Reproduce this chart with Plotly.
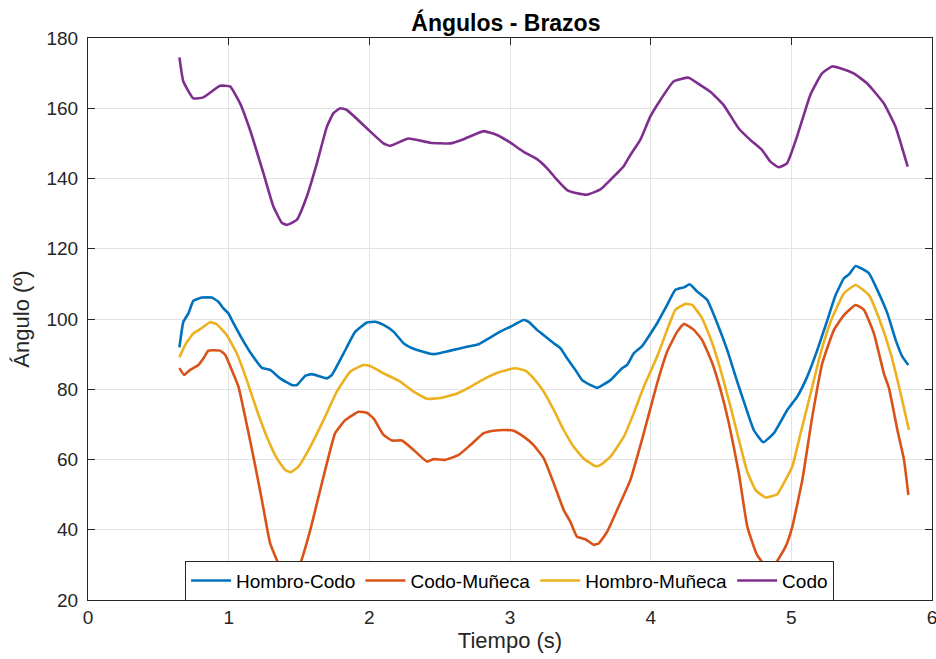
import plotly.graph_objects as go

# Joint angle time series (time in seconds, angle in degrees)
t_hombro_codo = [0.65, 0.678, 0.714, 0.749, 0.809, 0.88, 0.927, 0.963, 0.998, 1.034, 1.093, 1.165,
                 1.236, 1.295, 1.366, 1.449, 1.485, 1.544, 1.591, 1.698, 1.734, 1.817, 1.90, 1.983,
                 2.042, 2.101, 2.172, 2.243, 2.291, 2.339, 2.457, 2.576, 2.694, 2.777, 2.837, 2.931,
                 3.003, 3.097, 3.133, 3.192, 3.24, 3.311, 3.358, 3.406, 3.465, 3.513, 3.572, 3.619,
                 3.714, 3.797, 3.832, 3.88, 3.939, 4.046, 4.117, 4.176, 4.236, 4.278, 4.331, 4.402,
                 4.473, 4.544, 4.615, 4.675, 4.733, 4.80, 4.876, 4.971, 5.042, 5.113, 5.185, 5.256,
                 5.315, 5.374, 5.41, 5.457, 5.552, 5.611, 5.683, 5.742, 5.789, 5.832]
hombro_codo = [91.9, 99.2, 101.6, 105.2, 106.1, 106.1, 104.9, 103.0, 101.6, 98.8, 94.5, 89.8,
               86.1, 85.5, 83.1, 81.2, 81.2, 83.8, 84.3, 83.1, 84.1, 90.2, 96.4, 99.0,
               99.2, 98.3, 96.4, 93.1, 91.9, 91.2, 90.0, 91.0, 92.1, 92.8, 94.2, 96.4,
               97.8, 99.7, 99.2, 96.9, 95.4, 93.1, 91.7, 88.8, 85.5, 82.6, 81.2, 80.4,
               82.6, 86.0, 86.9, 90.2, 92.3, 98.8, 104.0, 108.3, 109.0, 109.9, 107.8, 105.4,
               98.8, 91.2, 82.2, 75.0, 68.4, 64.9, 67.5, 74.1, 77.9, 83.6, 91.2, 99.7,
               106.8, 111.6, 112.7, 115.1, 113.0, 108.3, 101.6, 94.0, 89.3, 86.9]

t_codo_muneca = [0.65, 0.683, 0.726, 0.785, 0.821, 0.856, 0.939, 0.975, 1.022, 1.07, 1.117, 1.176,
                 1.236, 1.295, 1.354, 1.42, 1.508, 1.58, 1.639, 1.698, 1.757, 1.829, 1.923, 1.983,
                 2.03, 2.101, 2.161, 2.232, 2.315, 2.41, 2.457, 2.54, 2.635, 2.718, 2.813, 2.884,
                 2.955, 3.026, 3.097, 3.168, 3.24, 3.311, 3.382, 3.429, 3.477, 3.536, 3.595, 3.631,
                 3.69, 3.761, 3.856, 3.951, 4.046, 4.117, 4.189, 4.236, 4.307, 4.366, 4.438, 4.497,
                 4.556, 4.627, 4.687, 4.757, 4.85, 4.959, 5.007, 5.078, 5.149, 5.22, 5.303, 5.374,
                 5.457, 5.516, 5.587, 5.658, 5.694, 5.754, 5.801, 5.832]
codo_muneca = [86.0, 84.1, 85.5, 86.9, 88.8, 91.0, 91.0, 89.8, 85.5, 80.7, 72.2, 60.8,
               48.5, 36.1, 30.4, 27.0, 30.4, 39.9, 49.4, 58.9, 67.5, 71.2, 73.6, 73.3,
               71.7, 67.0, 65.4, 65.4, 62.7, 59.4, 60.1, 59.9, 61.3, 64.1, 67.5, 68.2,
               68.4, 68.2, 66.5, 64.1, 60.3, 53.2, 45.6, 42.3, 38.0, 37.3, 35.7, 36.1,
               39.4, 45.6, 54.2, 67.5, 81.7, 90.7, 96.4, 98.6, 96.9, 94.0, 87.4, 79.8,
               70.3, 56.1, 40.9, 32.8, 28.5, 35.2, 40.9, 54.2, 72.2, 87.4, 96.9, 101.1,
               104.0, 102.6, 95.9, 84.5, 80.3, 68.4, 59.9, 49.9]

t_hombro_muneca = [0.65, 0.69, 0.749, 0.797, 0.868, 0.915, 0.987, 1.058, 1.129, 1.20, 1.271, 1.343,
                   1.402, 1.442, 1.496, 1.58, 1.674, 1.769, 1.864, 1.959, 2.006, 2.101, 2.22, 2.315,
                   2.41, 2.504, 2.623, 2.741, 2.837, 2.931, 3.038, 3.109, 3.168, 3.24, 3.311, 3.382,
                   3.453, 3.524, 3.607, 3.643, 3.714, 3.809, 3.88, 3.951, 4.046, 4.117, 4.176, 4.248,
                   4.295, 4.366, 4.438, 4.497, 4.568, 4.627, 4.687, 4.746, 4.817, 4.90, 4.959, 5.007,
                   5.066, 5.137, 5.208, 5.279, 5.374, 5.457, 5.552, 5.623, 5.706, 5.777, 5.836]
hombro_muneca = [89.1, 92.6, 95.9, 97.1, 99.1, 98.5, 95.4, 90.2, 82.6, 74.1, 66.5, 60.3,
                 57.0, 56.4, 58.0, 63.6, 71.2, 79.3, 85.0, 86.9, 86.6, 84.5, 82.2, 79.3,
                 77.3, 77.5, 78.8, 81.2, 83.4, 85.0, 86.0, 85.3, 83.1, 79.3, 74.1, 68.4,
                 63.6, 60.3, 58.1, 58.4, 60.8, 66.5, 73.2, 80.7, 89.3, 96.9, 102.6, 104.3,
                 104.0, 100.2, 93.1, 85.5, 75.0, 65.6, 56.5, 51.3, 49.2, 50.1, 54.2, 58.0,
                 67.5, 78.8, 90.2, 99.2, 107.3, 109.7, 106.8, 100.2, 90.2, 78.8, 68.4]

t_codo = [0.65, 0.678, 0.749, 0.82, 0.939, 1.01, 1.081, 1.152, 1.247, 1.318, 1.378, 1.413,
          1.484, 1.555, 1.627, 1.698, 1.745, 1.792, 1.84, 1.982, 2.10, 2.148, 2.278, 2.433,
          2.576, 2.67, 2.813, 2.908, 3.003, 3.097, 3.192, 3.264, 3.335, 3.406, 3.477, 3.548,
          3.643, 3.761, 3.807, 3.856, 3.926, 3.997, 4.068, 4.163, 4.27, 4.353, 4.424, 4.519,
          4.625, 4.708, 4.792, 4.851, 4.91, 4.969, 5.04, 5.135, 5.218, 5.289, 5.348, 5.443,
          5.538, 5.657, 5.74, 5.827]
codo = [174.5, 167.6, 162.8, 163.1, 166.4, 166.2, 161.4, 153.8, 141.5, 132.0, 127.4, 126.8,
        128.2, 134.8, 144.3, 154.7, 158.6, 160.0, 159.5, 154.3, 150.0, 149.3, 151.4, 150.2,
        150.0, 151.2, 153.5, 152.4, 150.2, 147.6, 145.5, 142.9, 139.6, 136.7, 135.8, 135.4,
        136.9, 141.5, 143.4, 146.7, 151.0, 157.6, 162.3, 167.6, 168.7, 166.6, 164.7, 160.9,
        154.3, 151.0, 148.1, 144.8, 143.2, 144.3, 151.9, 163.8, 169.9, 171.9, 171.4, 169.9,
        167.1, 161.4, 154.8, 143.4]

x_ticks = [0, 1, 2, 3, 4, 5, 6]
y_ticks = [20, 40, 60, 80, 100, 120, 140, 160, 180]

series = [
    ("Hombro-Codo", t_hombro_codo, hombro_codo, "#0072BD"),
    ("Codo-Muñeca", t_codo_muneca, codo_muneca, "#D95319"),
    ("Hombro-Muñeca", t_hombro_muneca, hombro_muneca, "#EDB120"),
    ("Codo", t_codo, codo, "#7E2F8E"),
]

FONT = "Liberation Sans, Arial, Helvetica, sans-serif"
AXIS_COLOR = "#262626"
GRID_COLOR = "#e3e3e3"

fig = go.Figure()
for name, t, v, color in series:
    fig.add_trace(go.Scatter(
        x=t, y=v, mode="lines", name=name,
        line=dict(color=color, width=2.6, shape="spline", smoothing=0.4),
    ))

axis_common = dict(
    showline=True, linecolor=AXIS_COLOR, linewidth=1, mirror="ticks",
    ticks="inside", ticklen=7, tickcolor=AXIS_COLOR, tickwidth=1,
    showgrid=True, gridcolor=GRID_COLOR, gridwidth=1, zeroline=False,
    ticklabeloverflow="allow", automargin=False,
    tickfont=dict(family=FONT, size=19, color=AXIS_COLOR),
)

fig.update_layout(
    width=936, height=659,
    margin=dict(l=88, r=4, t=38, b=59),
    paper_bgcolor="white", plot_bgcolor="white",
    font=dict(family=FONT, color=AXIS_COLOR),
    title=dict(text="<b>Ángulos - Brazos</b>", x=0.5405, xanchor="center",
               y=0.965, yanchor="middle",
               font=dict(family=FONT, size=23, color="#000000")),
    xaxis=dict(range=[0, 6], tickvals=x_ticks,
               title=dict(text="Tiempo (s)", standoff=4,
                          font=dict(family=FONT, size=22, color=AXIS_COLOR)),
               **axis_common),
    yaxis=dict(range=[20, 180], tickvals=y_ticks, ticklabelstandoff=5,
               title=dict(text="Ángulo (º)", standoff=10,
                          font=dict(family=FONT, size=22, color=AXIS_COLOR)),
               **axis_common),
    legend=dict(orientation="h", x=0.4995, xanchor="center", y=0.07, yanchor="top",
                bgcolor="white", bordercolor=AXIS_COLOR, borderwidth=1,
                font=dict(family=FONT, size=19, color="#000000"),
                itemwidth=40, tracegroupgap=0),
    showlegend=True,
)

fig.write_html("out.html")
